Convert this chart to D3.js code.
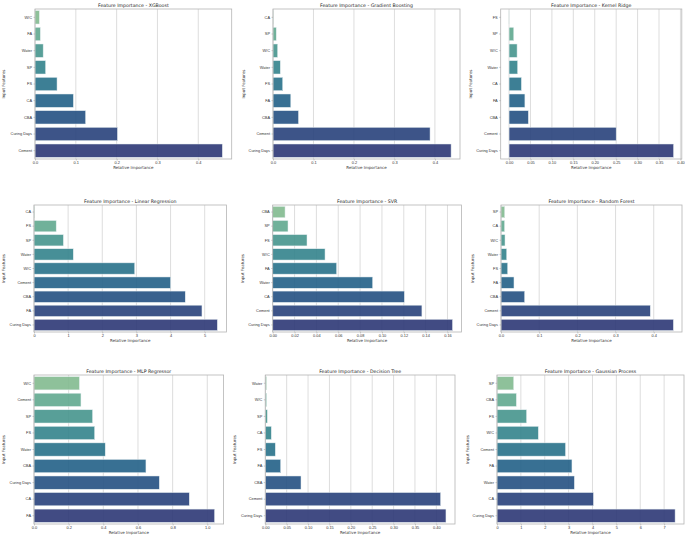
<!DOCTYPE html>
<html>
<head>
<meta charset="utf-8">
<script src="https://cdn.jsdelivr.net/npm/d3@7"></script>
<style>
  body { margin: 0; background: #fff; }
  svg { display: block; font-family: "DejaVu Sans", sans-serif; }
  .tick-label { fill: #333; font-size: 3.9px; }
  .axis-title { fill: #333; font-size: 4px; }
  .panel-title { fill: #222; font-size: 4.7px; }
</style>
</head>
<body>
<svg id="chart" width="685" height="535"></svg>
<script>
// Feature importance for nine models
const modelNames = ["XGBoost", "Gradient Boosting", "Kernel Ridge",
                    "Linear Regression", "SVR", "Random Forest",
                    "MLP Regressor", "Decision Tree", "Gaussian Process"];

const xgbFeatures = ["W/C", "FA", "Water", "SP", "FS", "CA", "CBA", "Curing Days", "Cement"];
const xgbValues   = [0.0106, 0.013, 0.020, 0.026, 0.054, 0.094, 0.124, 0.202, 0.459];
const xgbTicks    = [0, 0.1, 0.2, 0.3, 0.4];

const gbFeatures = ["CA", "SP", "W/C", "Water", "FS", "FA", "CBA", "Cement", "Curing Days"];
const gbValues   = [0.0005, 0.008, 0.0115, 0.018, 0.024, 0.044, 0.063, 0.388, 0.440];
const gbTicks    = [0, 0.1, 0.2, 0.3, 0.4];

const krFeatures = ["FS", "SP", "W/C", "Water", "CA", "FA", "CBA", "Cement", "Curing Days"];
const krValues   = [-0.0003, 0.011, 0.0187, 0.020, 0.0288, 0.037, 0.045, 0.250, 0.384];
const krTicks    = [0, 0.05, 0.10, 0.15, 0.20, 0.25, 0.30, 0.35, 0.40];

const lrFeatures = ["CA", "FS", "SP", "Water", "W/C", "Cement", "CBA", "FA", "Curing Days"];
const lrValues   = [0.01, 0.65, 0.86, 1.15, 2.95, 4.0, 4.43, 4.92, 5.37];
const lrTicks    = [0, 1, 2, 3, 4, 5];

const svrFeatures = ["CBA", "SP", "FS", "W/C", "FA", "Water", "CA", "Cement", "Curing Days"];
const svrValues   = [0.0113, 0.014, 0.0314, 0.0479, 0.0585, 0.0915, 0.1205, 0.1366, 0.1646];
const svrTicks    = [0, 0.02, 0.04, 0.06, 0.08, 0.10, 0.12, 0.14, 0.16];

const rfFeatures = ["SP", "CA", "W/C", "Water", "FS", "FA", "CBA", "Cement", "Curing Days"];
const rfValues   = [0.0098, 0.0094, 0.0105, 0.015, 0.0175, 0.034, 0.062, 0.391, 0.4515];
const rfTicks    = [0, 0.1, 0.2, 0.3, 0.4];

const mlpFeatures = ["W/C", "Cement", "SP", "FS", "Water", "CBA", "Curing Days", "CA", "FA"];
const mlpValues   = [0.262, 0.271, 0.338, 0.350, 0.411, 0.646, 0.723, 0.896, 1.042];
const mlpTicks    = [0, 0.2, 0.4, 0.6, 0.8, 1.0];

const dtFeatures = ["Water", "W/C", "SP", "CA", "FS", "FA", "CBA", "Cement", "Curing Days"];
const dtValues   = [0.003, 0.003, 0.0047, 0.014, 0.0234, 0.036, 0.0835, 0.410, 0.4225];
const dtTicks    = [0, 0.05, 0.10, 0.15, 0.20, 0.25, 0.30, 0.35, 0.40];

const gpFeatures = ["SP", "CBA", "FS", "W/C", "Cement", "FA", "Water", "CA", "Curing Days"];
const gpValues   = [0.70, 0.81, 1.24, 1.73, 2.87, 3.14, 3.24, 4.04, 7.46];
const gpTicks    = [0, 1, 2, 3, 4, 5, 6, 7];

const tickFormats = [".1f", ".1f", ".2f", "d", ".2f", ".1f", ".1f", ".2f", "d"];

// panel frames, in page pixels
const panels = [
  { left: 35,    right: 231.7, top: 9,   bottom: 159, ylab: 3,   features: xgbFeatures, values: xgbValues, ticks: xgbTicks },
  { left: 273,   right: 460,   top: 9,   bottom: 159, ylab: 243, features: gbFeatures,  values: gbValues,  ticks: gbTicks },
  { left: 500.7, right: 681.8, top: 9,   bottom: 159, ylab: 470, features: krFeatures,  values: krValues,  ticks: krTicks },
  { left: 34,    right: 226.5, top: 205, bottom: 332, ylab: 3,   features: lrFeatures,  values: lrValues,  ticks: lrTicks },
  { left: 272.7, right: 461.5, top: 205, bottom: 332, ylab: 242, features: svrFeatures, values: svrValues, ticks: svrTicks },
  { left: 501,   right: 682,   top: 205, bottom: 332, ylab: 472, features: rfFeatures,  values: rfValues,  ticks: rfTicks },
  { left: 34,    right: 223.6, top: 375, bottom: 524, ylab: 3,   features: mlpFeatures, values: mlpValues, ticks: mlpTicks },
  { left: 265.3, right: 455,   top: 375, bottom: 524, ylab: 234, features: dtFeatures,  values: dtValues,  ticks: dtTicks },
  { left: 497,   right: 684,   top: 375, bottom: 524, ylab: 467, features: gpFeatures,  values: gpValues,  ticks: gpTicks }
];

// seaborn "crest"-like ramp
const crest = d3.interpolateRgbBasis(["#a5cd90", "#6aae8f", "#3a8f8d", "#25708a", "#1f5585", "#2c3a78", "#2c3172"]);

const svg = d3.select("#chart");

panels.forEach((p, i) => {
    const g = svg.append("g");
    const vmin = d3.min(p.values), vmax = d3.max(p.values);

    // matplotlib-style autoscale: sticky at zero unless data goes negative
    let domain;
    if (vmin < 0) {
        const pad = (vmax - vmin) * 0.05;
        domain = [vmin - pad, vmax + pad];
    } else {
        domain = [0, vmax * 1.05];
    }

    const x = d3.scaleLinear().domain(domain).range([p.left, p.right]);
    const y = d3.scaleBand().domain(p.features).range([p.top, p.bottom]).paddingInner(0.2).paddingOuter(0.1);
    const n = p.features.length;
    const color = d3.scaleOrdinal().domain(p.features)
        .range(p.features.map((f, k) => crest((k + 1) / (n + 1))));

    // grid
    g.selectAll(".grid")
        .data(p.ticks)
        .join("line")
        .attr("x1", d => x(d)).attr("x2", d => x(d))
        .attr("y1", p.top).attr("y2", p.bottom)
        .attr("stroke", "#d4d4d4")
        .attr("stroke-width", 0.8);

    // bars
    g.selectAll(".bar")
        .data(p.features.map((f, k) => ({ feature: f, value: p.values[k] })))
        .join("rect")
        .attr("x", d => Math.min(x(0), x(d.value)))
        .attr("y", d => y(d.feature))
        .attr("width", d => Math.abs(x(d.value) - x(0)))
        .attr("height", y.bandwidth())
        .attr("fill", d => color(d.feature))
        .attr("fill-opacity", 0.9)
        .attr("stroke", "#e6eef0")
        .attr("stroke-width", 0.5);

    // frame
    g.append("rect")
        .attr("x", p.left).attr("y", p.top)
        .attr("width", p.right - p.left).attr("height", p.bottom - p.top)
        .attr("fill", "none")
        .attr("stroke", "#b5b5b5")
        .attr("stroke-width", 0.8);

    // x axis
    const fmt = d3.format(tickFormats[i]);
    const xa = g.append("g").attr("transform", `translate(0,${p.bottom})`)
        .call(d3.axisBottom(x).tickValues(p.ticks).tickFormat(fmt).tickSize(1.5).tickPadding(1));
    xa.select(".domain").remove();
    xa.selectAll("line").attr("stroke", "#999").attr("stroke-width", 0.5);
    xa.selectAll("text").attr("class", "tick-label").attr("font-family", null).attr("font-size", null);

    // y axis
    const ya = g.append("g").attr("transform", `translate(${p.left},0)`)
        .call(d3.axisLeft(y).tickSize(1.5).tickPadding(1.5));
    ya.select(".domain").remove();
    ya.selectAll("line").attr("stroke", "#999").attr("stroke-width", 0.5);
    ya.selectAll("text").attr("class", "tick-label").attr("font-family", null).attr("font-size", null);

    // titles
    g.append("text")
        .attr("class", "panel-title")
        .attr("x", (p.left + p.right) / 2)
        .attr("y", p.top - 2.5)
        .attr("text-anchor", "middle")
        .text("Feature Importance - " + modelNames[i]);

    g.append("text")
        .attr("class", "axis-title")
        .attr("x", (p.left + p.right) / 2)
        .attr("y", Math.min(p.bottom + 10, 534))
        .attr("text-anchor", "middle")
        .text("Relative Importance");

    g.append("text")
        .attr("class", "axis-title")
        .attr("transform", `translate(${p.ylab + 1.5},${(p.top + p.bottom) / 2}) rotate(-90)`)
        .attr("text-anchor", "middle")
        .text("Input Features");
});
</script>
</body>
</html>
